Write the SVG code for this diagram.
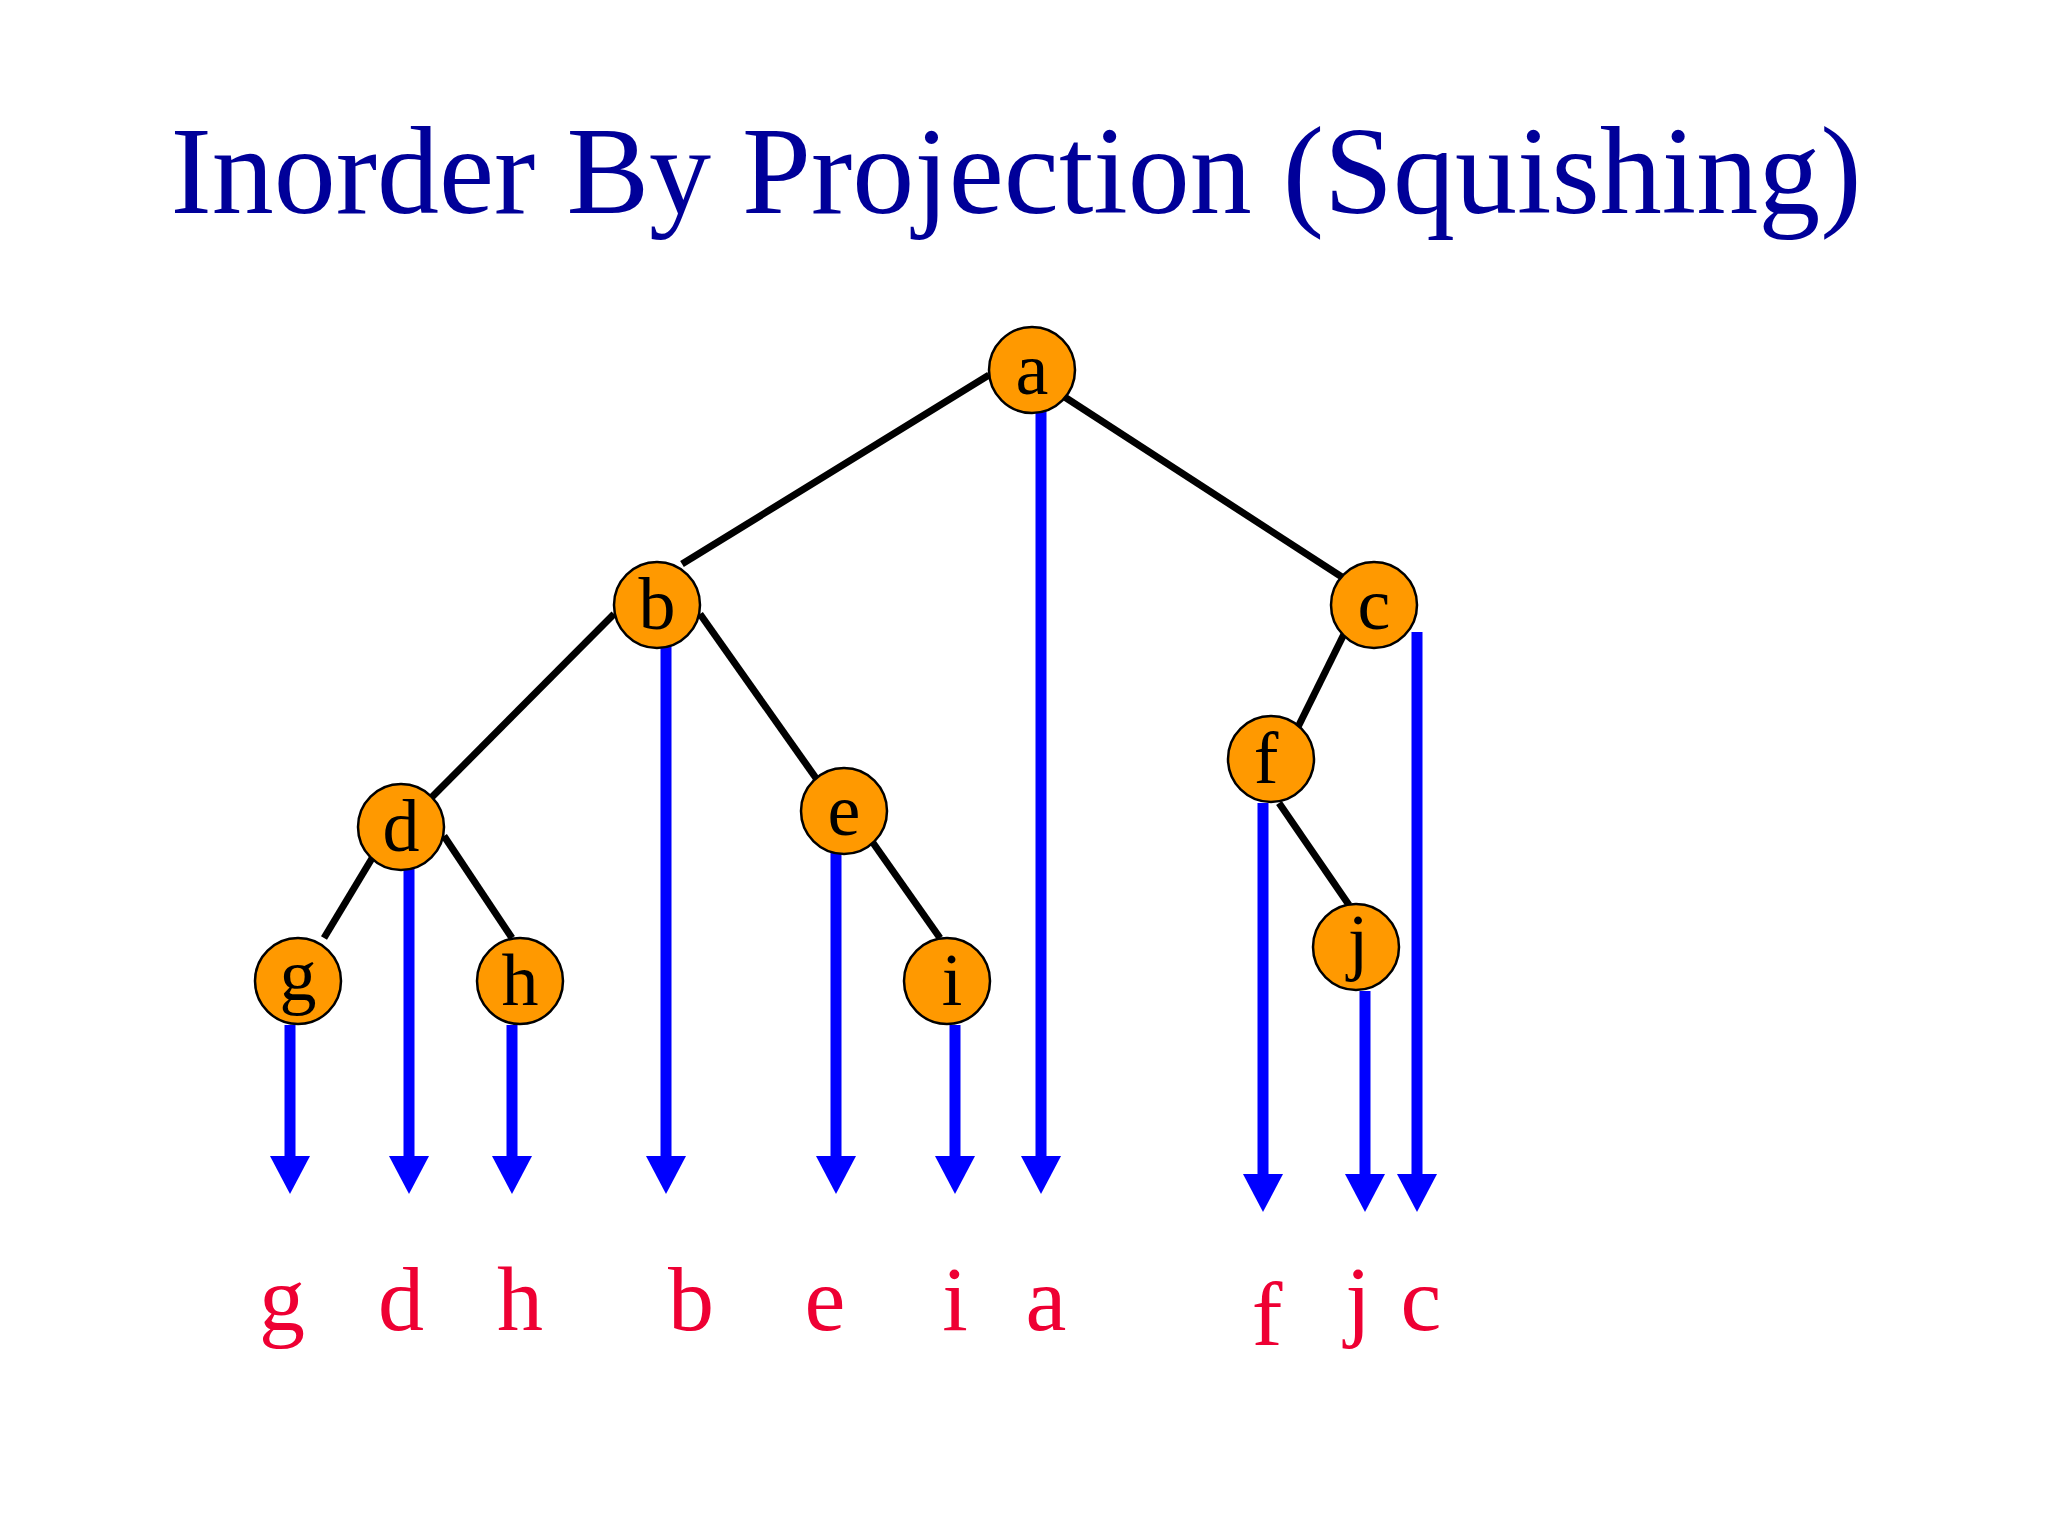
<svg xmlns="http://www.w3.org/2000/svg" width="2048" height="1536" viewBox="0 0 2048 1536">
<style>
.t{font-family:"Liberation Serif",serif;fill:#000099;font-size:124px;text-anchor:middle}
.n circle{fill:#ff9900;stroke:#000;stroke-width:2.5}
.n text{font-family:"Liberation Serif",serif;font-size:74px;text-anchor:middle;fill:#000}
.e{stroke:#000;stroke-width:7}
.p{stroke:#0000ff;stroke-width:11}
.h{fill:#0000ff}
.l{font-family:"Liberation Serif",serif;font-size:92px;fill:#ee0033;text-anchor:middle}
</style>
<rect width="2048" height="1536" fill="#fff"/>
<text class="t" x="1016" y="213">Inorder By Projection (Squishing)</text>
<g id="connectors">
<line class="e" x1="989" y1="375" x2="682" y2="564"/>
<line class="e" x1="1060" y1="394" x2="1345" y2="579"/>
<line class="e" x1="614" y1="614" x2="428" y2="801"/>
<line class="e" x1="700" y1="614" x2="818" y2="781"/>
<line class="e" x1="374" y1="855" x2="324" y2="938"/>
<line class="e" x1="444" y1="836" x2="512" y2="938"/>
<line class="e" x1="871" y1="840" x2="940" y2="938"/>
<line class="e" x1="1345" y1="632" x2="1298" y2="727"/>
<line class="e" x1="1279" y1="803" x2="1349" y2="905"/>
<line class="p" x1="290" y1="1025" x2="290" y2="1160"/><polygon class="h" points="270,1156 310,1156 290,1194"/>
<line class="p" x1="409" y1="868" x2="409" y2="1160"/><polygon class="h" points="389,1156 429,1156 409,1194"/>
<line class="p" x1="512" y1="1025" x2="512" y2="1160"/><polygon class="h" points="492,1156 532,1156 512,1194"/>
<line class="p" x1="666" y1="646" x2="666" y2="1160"/><polygon class="h" points="646,1156 686,1156 666,1194"/>
<line class="p" x1="836" y1="853" x2="836" y2="1160"/><polygon class="h" points="816,1156 856,1156 836,1194"/>
<line class="p" x1="955" y1="1025" x2="955" y2="1160"/><polygon class="h" points="935,1156 975,1156 955,1194"/>
<line class="p" x1="1041" y1="409" x2="1041" y2="1160"/><polygon class="h" points="1021,1156 1061,1156 1041,1194"/>
<line class="p" x1="1263" y1="803" x2="1263" y2="1178"/><polygon class="h" points="1243,1174 1283,1174 1263,1212"/>
<line class="p" x1="1365" y1="991" x2="1365" y2="1178"/><polygon class="h" points="1345,1174 1385,1174 1365,1212"/>
<line class="p" x1="1417" y1="632" x2="1417" y2="1178"/><polygon class="h" points="1397,1174 1437,1174 1417,1212"/>
</g>
<g id="a" class="n"><circle cx="1032" cy="370" r="43"/><text x="1032" y="394">a</text></g>
<g id="b" class="n"><circle cx="657" cy="605" r="43"/><text x="657" y="629">b</text></g>
<g id="c" class="n"><circle cx="1374" cy="605" r="43"/><text x="1374" y="629">c</text></g>
<g id="d" class="n"><circle cx="401" cy="827" r="43"/><text x="401" y="851">d</text></g>
<g id="e" class="n"><circle cx="844" cy="811" r="43"/><text x="844" y="835">e</text></g>
<g id="f" class="n"><circle cx="1271" cy="759" r="43"/><text x="1266" y="783">f</text></g>
<g id="g" class="n"><circle cx="298" cy="981" r="43"/><text x="298" y="1000">g</text></g>
<g id="h" class="n"><circle cx="520" cy="981" r="43"/><text x="520" y="1005">h</text></g>
<g id="i" class="n"><circle cx="947" cy="981" r="43"/><text x="952" y="1005">i</text></g>
<g id="j" class="n"><circle cx="1356" cy="947" r="43"/><text x="1358" y="966">j</text></g>
<g id="labels">
<text class="l" x="282" y="1330">g</text>
<text class="l" x="401" y="1330">d</text>
<text class="l" x="520" y="1330">h</text>
<text class="l" x="691" y="1330">b</text>
<text class="l" x="825" y="1330">e</text>
<text class="l" x="955" y="1330">i</text>
<text class="l" x="1046" y="1330">a</text>
<text class="l" x="1267" y="1345">f</text>
<text class="l" x="1358" y="1330">j</text>
<text class="l" x="1421" y="1330">c</text>
</g>
</svg>
